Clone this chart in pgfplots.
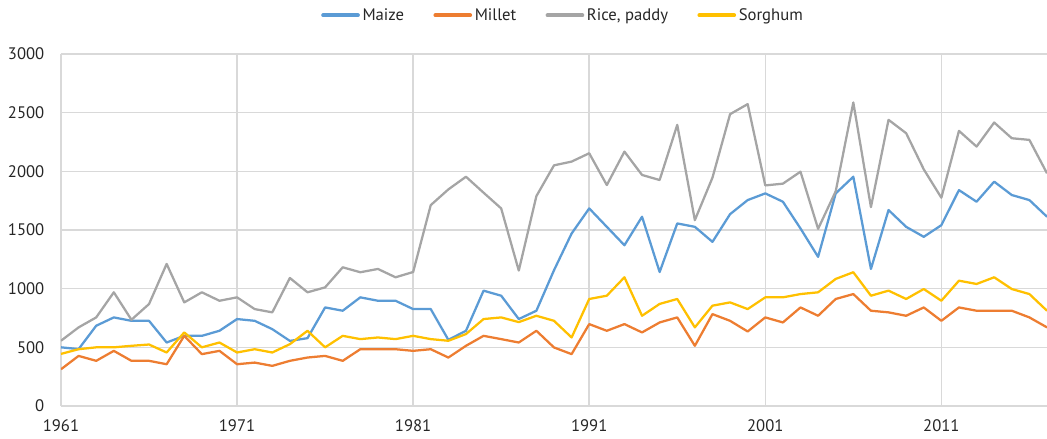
\documentclass[border=0pt]{standalone}
\usepackage{fontspec}
\setmainfont{PT Sans}
\usepackage{pgfplots}
\usepackage{pgfplotstable}
\pgfplotsset{compat=1.18}

\definecolor{cMaize}{HTML}{5B9BD5}
\definecolor{cMillet}{HTML}{ED7D31}
\definecolor{cRice}{HTML}{A5A5A5}
\definecolor{cSorghum}{HTML}{FFC000}
\definecolor{gridgray}{HTML}{D9D9D9}
\definecolor{txt}{HTML}{262626}

% production per crop, 1961-2017
\pgfplotstableread{
year maize millet rice sorghum
1961 500 313 556 444
1962 485 427 670 484
1963 684 385 755 500
1964 755 470 969 500
1965 726 385 735 513
1966 726 385 869 524
1967 541 356 1211 456
1968 598 598 883 627
1969 598 442 969 500
1970 641 470 897 541
1971 741 356 926 456
1972 726 370 826 484
1973 655 342 798 456
1974 555 385 1091 527
1975 578 413 969 641
1976 840 427 1011 500
1977 812 385 1182 598
1978 926 484 1140 570
1979 897 484 1168 584
1980 897 484 1097 570
1981 826 470 1142 598
1982 826 484 1712 570
1983 564 413 1846 556
1984 641 513 1954 613
1985 983 598 1818 741
1986 940 570 1684 755
1987 741 541 1154 715
1988 812 641 1789 769
1989 1157 499 2051 726
1990 1470 442 2083 584
1991 1684 698 2154 912
1992 1527 641 1883 940
1993 1370 698 2168 1097
1994 1613 627 1969 769
1995 1142 712 1926 870
1996 1556 755 2396 912
1997 1527 513 1584 670
1998 1399 783 1946 855
1999 1635 726 2487 883
2000 1755 635 2573 826
2001 1812 755 1880 926
2002 1741 712 1895 926
2003 1513 840 1997 954
2004 1271 769 1510 969
2005 1812 912 1830 1083
2006 1954 954 2587 1140
2007 1168 812 1695 940
2008 1670 798 2439 983
2009 1527 769 2325 912
2010 1442 840 2017 997
2011 1541 726 1775 897
2012 1840 840 2345 1068
2013 1741 812 2211 1040
2014 1912 812 2416 1097
2015 1798 812 2282 997
2016 1755 755 2268 954
2017 1613 670 1983 812
}\crops

\begin{document}
\begin{tikzpicture}
\useasboundingbox (-45.75pt,-24.75pt) rectangle (739.5pt,304.5pt);
\begin{axis}[
    scale only axis,
    width=739.5pt, height=264pt,
    xmin=1961, xmax=2017,
    ymin=0, ymax=3000,
    xtick={1961,1971,...,2011},
    ytick={0,500,...,3000},
    /pgf/number format/1000 sep={},
    /pgf/number format/assume math mode=true,
    axis lines*=left,
    axis line style={-, draw=gridgray, line width=1.1pt},
    grid=major,
    major grid style={draw=gridgray, line width=1.1pt},
    tick style={draw=none},
    ticklabel style={font=\fontsize{12.5}{15}\selectfont, text=txt},
    yticklabel style={xshift=-9pt},
    xticklabel style={yshift=-7pt},
    legend columns=-1,
    legend style={at={(0.5,1)}, anchor=center, xshift=7pt, yshift=29pt,
        draw=none, fill=none, font=\fontsize{12.5}{15}\selectfont, text=txt,
        /tikz/every even column/.append style={column sep=20pt}},
    legend image code/.code={\draw[#1, line width=3pt, line cap=round] (0pt,0pt) -- (26pt,0pt);},
    every axis plot/.append style={line width=1.7pt, line join=round},
]
\addplot[cMaize] table[x=year, y=maize] {\crops};
\addlegendentry{Maize}
\addplot[cMillet] table[x=year, y=millet] {\crops};
\addlegendentry{Millet}
\addplot[cRice] table[x=year, y=rice] {\crops};
\addlegendentry{Rice, paddy}
\addplot[cSorghum] table[x=year, y=sorghum] {\crops};
\addlegendentry{Sorghum}
\end{axis}
\end{tikzpicture}
\end{document}
